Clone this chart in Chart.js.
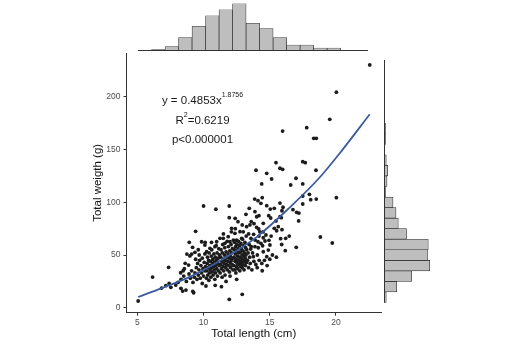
<!DOCTYPE html>
<html><head><meta charset="utf-8">
<script src="https://cdn.jsdelivr.net/npm/chart.js@4/dist/chart.umd.min.js"></script>
<style>
html,body{margin:0;padding:0;background:#fff;}
#wrap{position:relative;width:528px;height:349px;overflow:hidden;background:#fff;}
canvas{position:absolute;}
</style></head><body>
<div id="wrap">
<canvas id="main" style="left:0;top:0" width="528" height="349"></canvas>
<canvas id="topHist" style="left:0;top:0" width="528" height="52"></canvas>
<canvas id="rightHist" style="left:383px;top:0" width="145" height="349"></canvas>
</div>
<script>
// ---------- DATA ----------
const lengthCm = [
5.06,6.15,6.83,7.15,7.4,7.53,7.36,8.08,8.29,8.42,
8.67,9.25,10.18,10.88,11.94,12.92,14.43,9.4,8.92,8.74,
9.1,9.17,10.12,10.0,10.93,11.94,13.45,22.55,20.03,19.53,
17.79,18.32,18.51,15.97,17.49,17.68,15.47,15.77,15.97,13.96,
14.77,18.49,15.14,16.98,14.39,16.58,17.49,17.49,17.99,18.09,
18.51,20.03,17.49,13.86,14.11,14.43,14.33,14.77,15.04,15.34,
15.77,16.0,15.92,15.77,16.75,17.03,17.2,17.18,14.18,14.92,
15.07,15.87,15.47,14.51,13.6,13.81,14.01,14.16,15.34,15.64,
15.92,15.52,16.47,16.2,15.82,18.82,19.72,17.0,16.17,13.78,
14.18,14.51,14.71,13.58,13.9,14.11,14.33,14.64,14.94,15.01,
14.46,13.88,14.13,13.56,14.51,14.89,14.06,14.77,13.76,11.94,
12.39,12.6,13.2,13.88,14.01,12.92,13.25,13.5,12.12,12.37,
12.75,11.49,11.86,9.85,10.1,8.97,9.35,9.67,10.23,10.48,
10.86,10.99,11.24,11.61,11.99,12.5,12.88,8.61,8.87,8.27,
8.46,9.19,7.9,
8.3,8.5,8.7,8.9,9.0,8.55,9.1,
9.2,9.3,9.35,9.45,9.5,9.55,9.6,9.65,9.7,9.75,9.8,9.85,9.9,9.95,10.0,10.05,10.1,10.15,9.4,9.6,9.9,10.1,
10.22,10.25,10.28,10.3,10.32,10.35,10.38,10.4,10.42,10.45,
10.48,10.5,10.52,10.55,10.58,10.6,10.62,10.65,10.68,10.7,
10.72,10.75,10.78,10.8,10.82,10.85,10.88,10.9,10.92,10.95,
10.98,11.0,11.02,11.05,11.08,11.1,11.12,11.15,11.18,11.2,10.6,
11.25,11.28,11.3,11.32,11.35,11.38,11.4,11.42,11.45,11.48,
11.5,11.52,11.55,11.58,11.6,11.62,11.65,11.68,11.7,11.72,
11.75,11.78,11.8,11.82,11.85,11.88,11.9,11.92,11.95,11.98,
12.0,12.02,12.05,12.08,12.1,12.12,12.15,12.18,12.2,12.22,
12.25,11.5,11.7,12.0,11.35,12.1,
12.28,12.3,12.32,12.34,12.36,12.38,12.4,12.42,12.44,12.46,
12.48,12.5,12.52,12.54,12.56,12.58,12.6,12.62,12.64,12.66,
12.68,12.7,12.72,12.74,12.76,12.78,12.8,12.82,12.84,12.86,
12.88,12.9,12.92,12.94,12.96,12.98,13.0,13.02,13.04,13.06,
13.08,13.1,13.12,13.14,13.16,13.18,13.2,13.22,13.24,13.26,
12.5,13.0,12.4,
13.32,13.36,13.4,13.44,13.48,13.52,13.6,13.65,13.7,13.8,13.95,14.05,14.2,13.4,14.25,
14.4,14.6,14.8,15.0,15.2,14.5,15.1,
15.5,15.9
];
const weightG = [
6.4,29.1,18.7,20.9,23.1,19.4,38.3,24.1,18.4,15.8,
16.8,14.2,20.6,21.3,8.0,12.7,35.1,72.5,62,50.9,
50.9,57.3,62,96.5,93.4,96.5,94.3,230.3,204.4,178.7,
170.8,160.7,160.7,167.6,138.5,137.6,137.6,132.3,131.3,130.4,
127.5,130.4,122.1,122.8,117.4,116.4,117.4,106,107.6,102.5,
103.1,104.4,98.4,103.1,101.5,104.4,99,96.8,93.6,94.3,
99.3,95.3,92,86.3,93,90.5,89.8,82.3,87.3,87.3,
85.1,85.4,82.3,80.1,81.6,79.7,76.3,74.7,75.3,76.9,
74.0,73.0,68.0,65.8,65.5,67.1,61.4,57.3,54.1,69.6,
68.0,66.4,69.0,65.8,64.2,62.6,61.1,63.3,63.9,59.5,
58.8,57.9,56.9,55.7,53.1,54.7,50.0,48.4,48.4,85.4,
84.8,81.6,88.6,91.1,86.3,78.5,76.9,78.5,75.3,70.6,
72.1,65.8,67.4,62.6,59.5,49.1,52.6,50.0,53.1,56.4,
57.9,62.6,65.8,61.1,62.6,64.2,65.8,42.1,40.5,33.2,
35.1,15.6,21.5,
27,30,25,32,28,37,35,
24,29,33,38,27,42,31,36,45,28,40,33,47,37,30,43,35,39,46,55,23,51,
28,35,42,48,31,38,45,26,52,33,
40,36,44,29,49,38,55,34,42,46,
31,39,51,36,43,27,48,33,40,59,
45,37,52,30,42,47,35,56,40,50,62,
33,41,48,55,37,44,29,52,60,39,
46,35,42,50,57,31,45,38,53,41,
48,63,36,44,51,58,40,47,34,54,
43,49,38,60,45,52,41,56,47,36,
64,70,25,30,20,72,
40,48,55,62,36,44,51,58,33,46,
39,54,60,42,49,37,56,45,63,52,
41,48,59,35,44,53,39,61,47,56,
42,50,38,65,45,54,41,59,49,36,
52,44,62,47,40,57,50,68,43,55,
27,72,75,
45,52,38,60,48,42,58,36,52,44,41,38,45,70,72,
42,45,40,46,50,72,68,
48,60
];
// fitted curve
const fitLength = [5.06, 6.5, 9.0, 11.5, 14.0, 16.5, 18.8, 20.5, 22.55];
const fitWeight = [10.2, 17, 29.5, 46.5, 67, 95, 124, 150, 183.5];
// marginal histograms
const lengthBinCenters = [5.56,6.58,7.60,8.62,9.64,10.66,11.68,12.70,13.72,14.74,15.76,16.78,17.80,18.82,19.84,20.86,21.88];
const lengthBinCounts  = [1,2,6,18,33,47,55,63,37,30,18,8,8,4,4,0,1];
const weightBinCenters = [10,20,30,40,50,60,70,80,90,100,110,120,130,140,150,160,170,180,190,200,210,220,230];
const weightBinCounts  = [3,17,37,61,58,59,30,19,16,12,2,4,5,3,0,2,2,1,0,1,0,0,1];
// ticks
const xTicks = [5,10,15,20];
const yTicks = [0,50,100,150,200];
const xTitle = 'Total length (cm)';
const yTitle = 'Total weigth (g)';
const eqMain = 'y = 0.4853x', eqSup = '1.8756';
const r2Main = 'R', r2Sup = '2', r2Rest = '=0.6219';
const pText = 'p<0.000001';

// ---------- SETUP ----------
const FONT = "'Liberation Sans', Arial, Helvetica, sans-serif";
Chart.defaults.font.family = FONT;
Chart.defaults.animation = false;
Chart.defaults.plugins.legend.display = false;
Chart.defaults.plugins.tooltip.enabled = false;

const X_MIN = 4.18, X_MAX = 23.4, Y_MIN = -4.7, Y_MAX = 241.6;

const textPlugin = {
  id: 'fitText',
  afterDatasetsDraw(chart) {
    const {ctx, scales: {x, y}} = chart;
    const cx = x.getPixelForValue(9.92);
    ctx.save();
    ctx.fillStyle = '#1a1a1a';
    ctx.textBaseline = 'alphabetic';
    ctx.textAlign = 'left';
    const big = '11.5px ' + FONT, small = '7px ' + FONT;
    function drawParts(parts, baseY) {
      let w = 0;
      parts.forEach(p => { ctx.font = p.sup ? small : big; p.w = ctx.measureText(p.t).width; w += p.w; });
      let px = cx - w / 2;
      parts.forEach(p => {
        ctx.font = p.sup ? small : big;
        ctx.fillText(p.t, px, p.sup ? baseY - 6.5 : baseY);
        px += p.w;
      });
    }
    drawParts([{t: eqMain}, {t: eqSup, sup: true}], y.getPixelForValue(193.3));
    drawParts([{t: r2Main}, {t: r2Sup, sup: true}, {t: r2Rest}], y.getPixelForValue(174.3));
    drawParts([{t: pText}], y.getPixelForValue(156.5));
    ctx.restore();
  }
};

new Chart(document.getElementById('main'), {
  type: 'scatter',
  data: {
    datasets: [
      {
        type: 'line',
        data: fitLength.map((v, i) => ({x: v, y: fitWeight[i]})),
        borderColor: '#3D5C9E',
        borderWidth: 1.8,
        pointRadius: 0,
        fill: false,
        cubicInterpolationMode: 'monotone',
        order: 0
      },
      {
        data: lengthCm.map((v, i) => ({x: v, y: weightG[i]})),
        backgroundColor: '#1c1c1c',
        borderWidth: 0,
        pointRadius: 1.9,
        order: 1
      }
    ]
  },
  options: {
    responsive: false,
    layout: {padding: {left: 0, top: 53, right: 147, bottom: 0}},
    scales: {
      x: {
        type: 'linear', min: X_MIN, max: X_MAX,
        afterBuildTicks: s => { s.ticks = xTicks.map(v => ({value: v})); },
        afterFit: s => { s.height = 36.3; },
        ticks: {font: {size: 8.5}, color: '#4d4d4d', padding: 1.5},
        grid: {drawOnChartArea: false, drawTicks: true, tickLength: 3, tickColor: '#333', tickWidth: 1},
        border: {display: true, color: '#333', width: 1},
        title: {display: true, text: xTitle, color: '#111', font: {size: 11.5}, padding: {top: 0, bottom: 8.6}}
      },
      y: {
        type: 'linear', min: Y_MIN, max: Y_MAX,
        afterBuildTicks: s => { s.ticks = yTicks.map(v => ({value: v})); },
        afterFit: s => { s.width = 126.5; },
        ticks: {font: {size: 8.5}, color: '#4d4d4d', padding: 3},
        grid: {drawOnChartArea: false, drawTicks: true, tickLength: 3, tickColor: '#333', tickWidth: 1},
        border: {display: true, color: '#333', width: 1},
        title: {display: true, text: yTitle, color: '#111', font: {size: 11.5}, padding: {top: 91.4, bottom: 0}}
      }
    }
  },
  plugins: [textPlugin]
});

function baselinePlugin(horizontal) {
  return {
    id: 'histBase',
    afterDatasetsDraw(chart) {
      const {ctx, scales: {x, y}} = chart;
      const centers = horizontal ? weightBinCenters : lengthBinCenters;
      const half = (centers[1] - centers[0]) / 2;
      ctx.save();
      ctx.strokeStyle = '#333';
      ctx.lineWidth = 1;
      ctx.beginPath();
      if (horizontal) {
        const px = x.getPixelForValue(0) + 0.5;
        ctx.moveTo(px, y.getPixelForValue(centers[0] - half));
        ctx.lineTo(px, y.getPixelForValue(centers[centers.length - 1] + half));
      } else {
        const py = y.getPixelForValue(0) - 0.5;
        ctx.moveTo(x.getPixelForValue(centers[0] - half), py);
        ctx.lineTo(x.getPixelForValue(centers[centers.length - 1] + half), py);
      }
      ctx.stroke();
      ctx.restore();
    }
  };
}

const barStyle = {
  backgroundColor: '#BEBEBE',
  borderColor: '#2e2e2e',
  borderWidth: 0.7,
  borderSkipped: false,
  barPercentage: 1,
  categoryPercentage: 1
};

new Chart(document.getElementById('topHist'), {
  type: 'bar',
  data: {datasets: [Object.assign({data: lengthBinCenters.map((c, i) => ({x: c, y: lengthBinCounts[i]}))}, barStyle)]},
  options: {
    responsive: false,
    layout: {padding: {left: 126.5, right: 147, top: 0, bottom: 1}},
    scales: {
      x: {type: 'linear', min: X_MIN, max: X_MAX, offset: false, display: false},
      y: {type: 'linear', min: 0, max: 68, display: false}
    }
  },
  plugins: [baselinePlugin(false)]
});

new Chart(document.getElementById('rightHist'), {
  type: 'bar',
  data: {datasets: [Object.assign({data: weightBinCenters.map((c, i) => ({x: weightBinCounts[i], y: c}))}, barStyle)]},
  options: {
    responsive: false,
    indexAxis: 'y',
    layout: {padding: {left: 1, right: 0, top: 53, bottom: 36.3}},
    scales: {
      y: {type: 'linear', min: Y_MIN, max: Y_MAX, offset: false, display: false},
      x: {type: 'linear', min: 0, max: 192, display: false}
    }
  },
  plugins: [baselinePlugin(true)]
});
</script>
</body></html>
